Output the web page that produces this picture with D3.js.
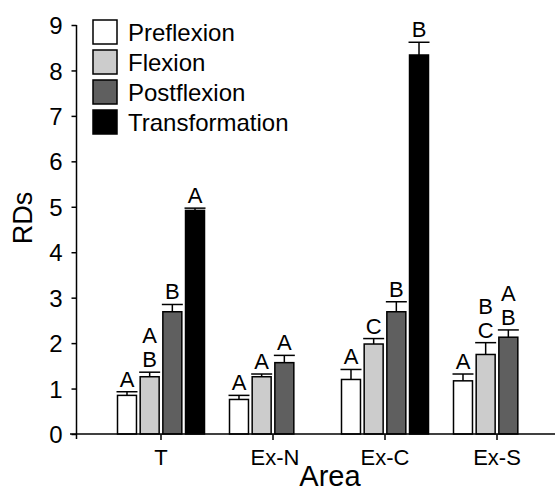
<!DOCTYPE html>
<html>
<head>
<meta charset="utf-8">
<script src="https://cdn.jsdelivr.net/npm/d3@7"></script>
<style>
  body { margin: 0; background: #fff; }
  text { font-family: "Liberation Sans", Arial, sans-serif; fill: #000; }
</style>
</head>
<body>
<script>
var w = 555;
var h = 492;

// groups along the x axis and the four stages
var areas = ["T", "Ex-N", "Ex-C", "Ex-S"];
var stages = ["Preflexion", "Flexion", "Postflexion", "Transformation"];
var colors = ["#ffffff", "#cccccc", "#5f5f5f", "#000000"];

// mean RDs per area, one array per stage (null = no bar)
var preflexion     = [0.85, 0.76, 1.20, 1.17];
var flexion        = [1.26, 1.26, 1.98, 1.75];
var postflexion    = [2.69, 1.57, 2.69, 2.13];
var transformation = [4.92, null, 8.34, null];

// error (upper whisker length)
var preflexionErr     = [0.08, 0.09, 0.22, 0.15];
var flexionErr        = [0.10, 0.06, 0.12, 0.26];
var postflexionErr    = [0.16, 0.16, 0.22, 0.16];
var transformationErr = [0.05, null, 0.28, null];

// significance letters, bottom line first
var preflexionLab     = [["A"], ["A"], ["A"], ["A"]];
var flexionLab        = [["B", "A"], ["A"], ["C"], ["C", "B"]];
var postflexionLab    = [["B"], ["A"], ["B"], ["B", "A"]];
var transformationLab = [["A"], null, ["B"], null];

var yTicks = [0, 1, 2, 3, 4, 5, 6, 7, 8, 9];

var series = [
  { vals: preflexion, err: preflexionErr, lab: preflexionLab },
  { vals: flexion, err: flexionErr, lab: flexionLab },
  { vals: postflexion, err: postflexionErr, lab: postflexionLab },
  { vals: transformation, err: transformationErr, lab: transformationLab }
];

var rows = [];
series.forEach(function(s, si) {
  areas.forEach(function(a, ai) {
    if (s.vals[ai] == null) return;
    rows.push({ area: a, stage: stages[si], si: si, v: s.vals[ai], e: s.err[ai], lab: s.lab[ai] });
  });
});

var svg = d3.select("body").append("svg")
    .attr("width", w)
    .attr("height", h);

var y = d3.scaleLinear().domain([0, 9]).range([434, 25]);

var x0 = d3.scaleBand().domain(areas).range([105, 553]);
var x1 = d3.scaleBand().domain(stages).range([-43.5, 43.5]).paddingInner(0.163);

function cx(d) { return x0(d.area) + x0.bandwidth() / 2; }

// bars
svg.append("g").selectAll("rect")
  .data(rows)
  .enter().append("rect")
    .attr("x", function(d) { return cx(d) + x1(d.stage); })
    .attr("y", function(d) { return y(d.v); })
    .attr("width", x1.bandwidth())
    .attr("height", function(d) { return y(0) - y(d.v); })
    .attr("fill", function(d) { return colors[d.si]; })
    .attr("stroke", "#000")
    .attr("stroke-width", 1.5);

// error bars
var eb = svg.append("g").attr("stroke", "#000").attr("stroke-width", 1.5);
rows.forEach(function(d) {
  var mx = cx(d) + x1(d.stage) + x1.bandwidth() / 2;
  eb.append("line")
    .attr("x1", mx).attr("x2", mx)
    .attr("y1", y(d.v)).attr("y2", y(d.v + d.e));
  eb.append("line")
    .attr("x1", mx - x1.bandwidth() / 2 - 1).attr("x2", mx + x1.bandwidth() / 2 + 1)
    .attr("y1", y(d.v + d.e)).attr("y2", y(d.v + d.e));
});

// letters
rows.forEach(function(d) {
  var mx = cx(d) + x1(d.stage) + x1.bandwidth() / 2;
  d.lab.forEach(function(t, k) {
    svg.append("text")
      .attr("x", mx)
      .attr("y", y(d.v + d.e) - 5 - k * 24)
      .attr("text-anchor", "middle")
      .style("font-size", "22px")
      .text(t);
  });
});

// y axis
var yAxis = svg.append("g")
    .attr("transform", "translate(76.5,0)")
    .call(d3.axisLeft(y).tickValues(yTicks).tickSize(5).tickSizeOuter(0).tickPadding(9));
yAxis.select(".domain").remove();
yAxis.selectAll("line").attr("stroke-width", 1.5);
yAxis.selectAll("text").style("font-size", "24px").attr("dy", "0.36em").attr("font-family", null);
svg.append("line")
  .attr("x1", 76.5).attr("x2", 76.5)
  .attr("y1", y(9)).attr("y2", y(0) + 5)
  .attr("stroke", "#000").attr("stroke-width", 1.5);

// x axis
var xAxis = svg.append("g")
    .attr("transform", "translate(0," + y(0) + ")")
    .call(d3.axisBottom(x0).tickSize(6).tickSizeOuter(0).tickPadding(9));
xAxis.select(".domain").remove();
xAxis.selectAll("line").attr("stroke-width", 1.5);
xAxis.selectAll("text").style("font-size", "22px").attr("font-family", null)
    .attr("dx", function(d) { return d === "Ex-N" ? 2 : 0; });
svg.append("line")
  .attr("x1", 70).attr("x2", w)
  .attr("y1", y(0)).attr("y2", y(0))
  .attr("stroke", "#000").attr("stroke-width", 1.5);

// axis titles
svg.append("text")
  .attr("x", 330).attr("y", 486)
  .attr("text-anchor", "middle")
  .style("font-size", "29px")
  .text("Area");

svg.append("text")
  .attr("transform", "translate(32,218) rotate(-90)")
  .attr("text-anchor", "middle")
  .style("font-size", "27px")
  .text("RDs");

// legend
var leg = svg.append("g").selectAll("g")
  .data(stages)
  .enter().append("g")
    .attr("transform", function(d, i) { return "translate(93," + (20 + i * 30) + ")"; });
leg.append("rect")
  .attr("width", 24).attr("height", 24)
  .attr("fill", function(d, i) { return colors[i]; })
  .attr("stroke", "#000").attr("stroke-width", 1.5);
leg.append("text")
  .attr("x", 35).attr("y", 21)
  .style("font-size", "24px")
  .text(function(d) { return d; });
</script>
</body>
</html>
